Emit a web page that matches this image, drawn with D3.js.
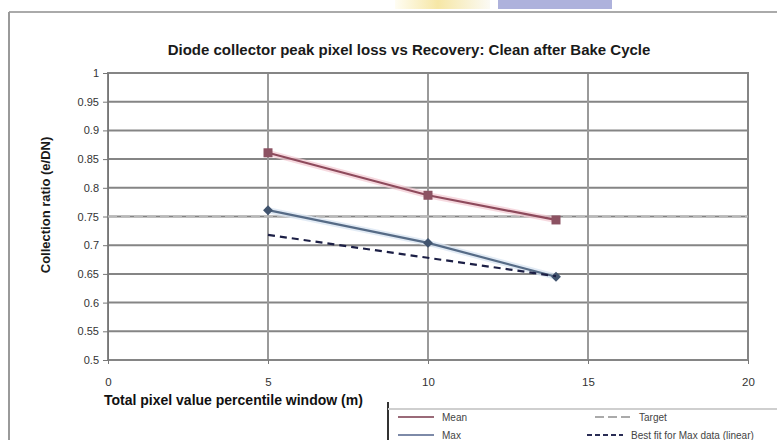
<!DOCTYPE html>
<html>
<head>
<meta charset="utf-8">
<script src="https://cdn.jsdelivr.net/npm/d3@7"></script>
<style>
  html, body { margin: 0; padding: 0; background: #fff; }
  svg { display: block; font-family: "Liberation Sans", Arial, sans-serif; }
</style>
</head>
<body>
<svg id="chart" width="777" height="440"></svg>
<script>
// Measured points along the x axis
const xValues = [5, 10, 14];
// Mean and Max series
const meanValues = [0.861, 0.787, 0.744];
const maxValues = [0.761, 0.704, 0.645];
// Target reference level
const targetValue = 0.75;
// Best fit line end points
const bestFitX = [5, 14];
const bestFitValues = [0.718, 0.646];
// Axis ticks
const xTicks = [0, 5, 10, 15, 20];
const xTickLabels = ["0", "5", "10", "15", "20"];
const yTicks = [0.5, 0.55, 0.6, 0.65, 0.7, 0.75, 0.8, 0.85, 0.9, 0.95, 1];
const yTickLabels = ["0.5", "0.55", "0.6", "0.65", "0.7", "0.75", "0.8", "0.85", "0.9", "0.95", "1"];
// Legend entries
const legendNames = ["Mean", "Target", "Max", "Best fit for Max data (linear)"];

const svg = d3.select("#chart");
const plotL = 108, plotR = 748, plotT = 73, plotB = 360;

const x = d3.scaleLinear().domain([0, 20]).range([plotL, plotR]);
const y = d3.scaleLinear().domain([0.5, 1]).range([plotB, plotT]);

// Window strip decorations along the top edge
const defs = svg.append("defs");
const grad = defs.append("linearGradient").attr("id", "tabGlow");
grad.append("stop").attr("offset", "0%").attr("stop-color", "#fffdf3");
grad.append("stop").attr("offset", "45%").attr("stop-color", "#f6e7a6");
grad.append("stop").attr("offset", "100%").attr("stop-color", "#fbfaf4");
svg.append("rect").attr("x", 395).attr("y", 0).attr("width", 95).attr("height", 9).attr("fill", "url(#tabGlow)");
svg.append("rect").attr("x", 498).attr("y", 0).attr("width", 114).attr("height", 9).attr("fill", "#aeb2dc");

// Chart frame
svg.append("line").attr("x1", 9).attr("x2", 777).attr("y1", 12).attr("y2", 12)
  .attr("stroke", "#aaa").attr("stroke-width", 2);
svg.append("line").attr("x1", 9).attr("x2", 9).attr("y1", 12).attr("y2", 440)
  .attr("stroke", "#9a9a9a").attr("stroke-width", 2);

// Title
svg.append("text").attr("x", 409).attr("y", 55).attr("text-anchor", "middle")
  .attr("font-size", 15).attr("font-weight", "bold").attr("fill", "#1a1a1a")
  .text("Diode collector peak pixel loss vs Recovery: Clean after Bake Cycle");

// Horizontal gridlines
svg.append("g").selectAll("line").data(yTicks).join("line")
  .attr("x1", plotL).attr("x2", plotR)
  .attr("y1", d => y(d)).attr("y2", d => y(d))
  .attr("stroke", "#858585").attr("stroke-width", 2);

// Vertical gridlines
svg.append("g").selectAll("line").data(xTicks.slice(1, -1)).join("line")
  .attr("x1", d => x(d)).attr("x2", d => x(d))
  .attr("y1", plotT).attr("y2", plotB)
  .attr("stroke", "#9a9a9a").attr("stroke-width", 2);

// Plot border
svg.append("rect").attr("x", plotL).attr("y", plotT).attr("width", plotR - plotL).attr("height", plotB - plotT)
  .attr("fill", "none").attr("stroke", "#858585").attr("stroke-width", 2);

// Axes
const yAxis = d3.axisLeft(y).tickValues(yTicks)
  .tickFormat((d, i) => yTickLabels[i]).tickSizeInner(5).tickSizeOuter(0).tickPadding(4);
const gy = svg.append("g").attr("transform", `translate(${plotL},0)`).call(yAxis);
gy.select(".domain").attr("stroke", "#777");
gy.selectAll(".tick line").attr("stroke", "#777");
gy.selectAll("text").attr("font-size", 11).attr("fill", "#333");

const xAxis = d3.axisBottom(x).tickValues(xTicks)
  .tickFormat((d, i) => xTickLabels[i]).tickSizeInner(4).tickSizeOuter(0).tickPadding(14);
const gx = svg.append("g").attr("transform", `translate(0,${plotB})`).call(xAxis);
gx.select(".domain").remove();
gx.selectAll(".tick line").attr("stroke", "#777");
gx.selectAll("text").attr("font-size", 11.5).attr("fill", "#333");

// Axis titles
svg.append("text").attr("transform", "translate(50,205) rotate(-90)").attr("text-anchor", "middle")
  .attr("font-size", 13).attr("font-weight", "bold").attr("fill", "#1a1a1a")
  .text("Collection ratio (e/DN)");
svg.append("text").attr("x", 104).attr("y", 405)
  .attr("font-size", 14).attr("font-weight", "bold").attr("fill", "#111")
  .text("Total pixel value percentile window (m)");

// Target reference line
svg.append("line").attr("x1", x(0)).attr("x2", x(20))
  .attr("y1", y(targetValue)).attr("y2", y(targetValue))
  .attr("stroke", "#b9b9b9").attr("stroke-width", 2).attr("stroke-dasharray", "9,4");

const line = d3.line().x(d => x(d[0])).y(d => y(d[1]));
const meanPts = xValues.map((v, i) => [v, meanValues[i]]);
const maxPts = xValues.map((v, i) => [v, maxValues[i]]);
const fitPts = bestFitX.map((v, i) => [v, bestFitValues[i]]);

// Mean series
svg.append("path").attr("d", line(meanPts)).attr("fill", "none")
  .attr("stroke", "#f2c9d2").attr("stroke-width", 6).attr("opacity", 0.7);
svg.append("path").attr("d", line(meanPts)).attr("fill", "none")
  .attr("stroke", "#8e4a5c").attr("stroke-width", 2.2);
svg.append("g").selectAll("rect").data(meanPts).join("rect")
  .attr("x", d => x(d[0]) - 4.5).attr("y", d => y(d[1]) - 4.5)
  .attr("width", 9).attr("height", 9).attr("fill", "#8c5262");

// Max series
svg.append("path").attr("d", line(maxPts)).attr("fill", "none")
  .attr("stroke", "#dbe6f2").attr("stroke-width", 6).attr("opacity", 0.8);
svg.append("path").attr("d", line(maxPts)).attr("fill", "none")
  .attr("stroke", "#566b86").attr("stroke-width", 2.2);
svg.append("g").selectAll("rect").data(maxPts).join("rect")
  .attr("x", d => x(d[0]) - 3.5).attr("y", d => y(d[1]) - 3.5)
  .attr("width", 7).attr("height", 7).attr("fill", "#41546e")
  .attr("transform", d => `rotate(45,${x(d[0])},${y(d[1])})`);

// Best fit line
svg.append("path").attr("d", line(fitPts)).attr("fill", "none")
  .attr("stroke", "#1c1f45").attr("stroke-width", 2.2).attr("stroke-dasharray", "7,5");

// Legend
const lg = svg.append("g");
lg.append("line").attr("x1", 388).attr("x2", 388).attr("y1", 402).attr("y2", 440)
  .attr("stroke", "#333").attr("stroke-width", 2);
lg.append("line").attr("x1", 388).attr("x2", 777).attr("y1", 409).attr("y2", 409)
  .attr("stroke", "#cfcfcf").attr("stroke-width", 2);
const legendItems = [
  { name: legendNames[0], lx: 398, ty: 420, color: "#9a6a78", dash: null },
  { name: legendNames[1], lx: 595, ty: 420, color: "#aaaaaa", dash: "9,4" },
  { name: legendNames[2], lx: 398, ty: 438, color: "#7d8aa8", dash: null },
  { name: legendNames[3], lx: 587, ty: 438, color: "#2a2d55", dash: "5,3" }
];
legendItems.forEach(it => {
  lg.append("line").attr("x1", it.lx).attr("x2", it.lx + 36)
    .attr("y1", it.ty - 3).attr("y2", it.ty - 3)
    .attr("stroke", it.color).attr("stroke-width", 2)
    .attr("stroke-dasharray", it.dash);
  lg.append("text").attr("x", it.lx + 44).attr("y", it.ty + 1)
    .attr("font-size", 10).attr("fill", "#444").text(it.name);
});
</script>
</body>
</html>
